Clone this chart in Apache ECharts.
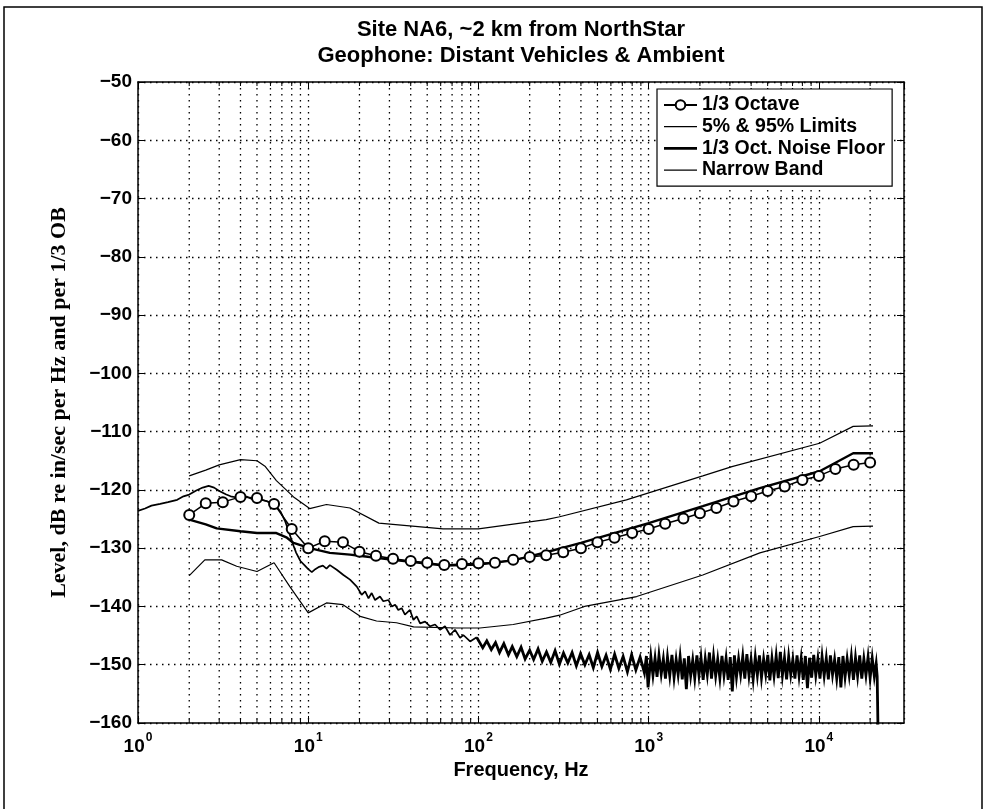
<!DOCTYPE html>
<html><head><meta charset="utf-8">
<script src="https://cdn.jsdelivr.net/npm/echarts@6/dist/echarts.min.js"></script>
<style>html,body{margin:0;padding:0;background:#fff}#c{width:986px;height:809px}</style>
</head><body><div id="c"></div>
<script>
const titleLines = ['Site NA6, ~2 km from NorthStar', 'Geophone: Distant Vehicles & Ambient'];
const xName = 'Frequency, Hz';
const yName = 'Level, dB re in/sec per Hz and per 1/3 OB';
const legendNames = ['1/3 Octave', '5% & 95% Limits', '1/3 Oct. Noise Floor', 'Narrow Band'];
const yMin = -160, yMax = -50, yStep = 10;
const xMin = 1, xMax = 31622.78;

const octaveFreqs = [2,2.5,3.15,4,5,6.3,8,10,12.5,16,20,25,31.5,40,50,63,80,100,125,160,200,250,315,400,500,630,800,1000,1250,1600,2000,2500,3150,4000,5000,6300,8000,10000,12500,16000,20000];
const octaveLevels = [-124.3,-122.3,-122.1,-121.2,-121.4,-122.4,-126.7,-130.0,-128.8,-129.0,-130.6,-131.3,-131.8,-132.2,-132.5,-132.9,-132.7,-132.6,-132.5,-132.0,-131.5,-131.2,-130.7,-130.0,-129.0,-128.2,-127.4,-126.7,-125.8,-124.9,-124.0,-123.1,-122.0,-121.1,-120.2,-119.4,-118.3,-117.6,-116.4,-115.7,-115.3];

const upperLimit = [[2,-117.6],[2.5,-116.6],[3,-115.7],[4,-114.8],[5,-115.0],[5.6,-116.0],[6.5,-118.4],[8.2,-121.2],[10.2,-123.2],[12.8,-122.5],[17.6,-123.1],[26,-125.7],[62,-126.7],[100,-126.7],[250,-125.1],[300,-124.6],[740,-121.7],[2080,-117.6],[3085,-116.0],[10100,-112.0],[15900,-109.1],[20800,-109.0]];
const lowerLimit = [[2,-134.7],[2.47,-132.0],[3.1,-132.0],[3.8,-133.1],[5,-134.0],[6.3,-132.5],[7.8,-136.6],[10,-141.1],[12.8,-139.4],[16,-139.7],[20.2,-141.7],[25.2,-142.5],[33,-142.8],[41.6,-143.5],[74.5,-143.7],[102,-143.7],[160,-143.1],[250,-142.0],[300,-141.5],[420,-140.0],[850,-138.3],[2080,-134.6],[4500,-130.8],[10100,-128.0],[15900,-126.3],[20800,-126.2]];
const noiseFloor = [[2,-125.1],[2.5,-125.9],[2.9,-126.6],[4,-127.1],[5,-127.4],[6.5,-127.4],[7.5,-128.2],[8.2,-129.1],[10.2,-130.0],[13.4,-130.8],[17.6,-131.1],[20,-131.3],[31.5,-132.0],[63,-133.0],[100,-132.8],[160,-132.1],[200,-131.4],[250,-130.7],[315,-129.9],[400,-129.1],[1000,-125.7],[2080,-122.8],[4500,-119.7],[10100,-116.8],[15900,-113.7],[20800,-113.7]];

// narrow-band spectrum, low part (1 - ~100 Hz)
const narrowBandLow = [
[1.0,-123.6],[1.1,-123.2],[1.2,-122.7],[1.35,-122.4],[1.5,-122.1],[1.7,-121.7],[1.85,-121.1],[2.0,-120.8],[2.2,-120.1],[2.4,-119.6],[2.6,-119.3],[2.8,-119.6],[3.0,-120.2],[3.3,-120.8],[3.5,-121.1],[3.8,-121.3],[4.1,-121.0],[4.4,-121.2],[4.7,-121.6],[5.0,-122.2],[5.3,-121.7],[5.7,-121.9],[6.0,-122.2],[6.4,-122.6],[6.9,-123.8],[7.3,-125.3],[7.7,-127.2],[8.1,-129.2],[8.5,-130.8],[9.0,-132.2],[9.5,-132.9],[10.0,-133.6],[10.5,-134.1],[11.0,-133.6],[11.6,-133.2],[12.2,-133.0],[12.8,-133.5],[13.4,-132.9],
[14.7,-133.7],[16.1,-134.6],[17.6,-135.4],[19.3,-136.6],[20.6,-138.0],[21.6,-137.4],[22.6,-138.6],[23.6,-137.7],[24.7,-138.9],[26.4,-138.3],[27.6,-139.1],[29.6,-138.9],[31.0,-140.0],[32.4,-139.7],[33.8,-140.6],[35.4,-140.3],[37.0,-141.4],[39.6,-140.6],[41.5,-142.3],[43.4,-141.7],[45.4,-142.9],[48.6,-142.6],[52.0,-143.4],[55.6,-143.1],[59.5,-144.0],[63.6,-143.4],[68.1,-144.9],[72.8,-144.0],[78.0,-145.4],[81.5,-144.9],[89.3,-146.0],[97.7,-145.3]
];
// narrow-band spectrum, dense part (~100 Hz - 22 kHz)
const narrowBandHigh = [
[97.7,-145.3],[106,-147.1],[112,-145.9],[119,-147.4],[126,-146.2],[133,-147.9],[141,-146.4],[150,-148.3],[158,-146.9],[168,-148.6],[178,-147.0],[188,-149.0],[200,-147.5],[211,-149.1],[224,-147.3],[237,-149.4],[251,-147.8],[266,-149.6],[282,-147.6],[299,-149.9],[316,-148.0],[335,-149.7],[355,-147.9],[376,-150.2],[398,-148.1],[422,-150.0],[447,-148.3],[473,-150.5],[501,-147.9],[531,-150.3],[562,-148.4],[596,-150.8],[631,-148.2],[668,-150.6],[708,-148.6],[750,-151.2],[794,-148.3],[841,-150.9],[891,-148.7],[944,-151.4],[970,-148.5],[992,-153.9],
[1030,-148.6],[1060,-151.8],[1090,-148.9],[1120,-152.1],[1150,-148.4],[1185,-151.6],[1220,-149.0],[1255,-152.4],[1290,-148.7],[1330,-151.9],[1370,-148.3],[1410,-152.2],[1450,-149.1],[1490,-151.7],[1530,-148.6],[1575,-152.5],[1620,-148.9],[1665,-154.2],[1715,-148.5],[1765,-151.9],[1815,-149.2],[1865,-152.3],[1920,-148.4],[1975,-151.8],[2030,-148.8],[2090,-152.6],[2150,-149.0],[2210,-151.7],[2275,-147.9],[2340,-152.4],[2405,-148.6],[2475,-151.9],[2545,-149.1],[2620,-152.3],[2695,-148.5],[2770,-151.8],[2850,-148.9],[2930,-152.6],[3015,-148.7],[3100,-154.6],[3190,-148.4],[3280,-152.1],[3375,-149.0],[3470,-151.7],[3570,-148.6],[3670,-152.4],[3775,-148.2],[3885,-151.9],[3995,-149.1],[4110,-152.5],[4230,-148.7],[4350,-151.8],[4475,-148.4],[4600,-152.2],[4735,-149.0],[4870,-151.6],[5010,-148.3],[5150,-152.7],[5300,-148.9],[5450,-151.9],[5610,-148.5],[5770,-152.3],[5935,-147.8],[6105,-151.8],[6280,-148.8],[6460,-152.5],[6645,-148.6],[6835,-151.7],[7030,-149.1],[7230,-152.4],[7440,-148.4],[7650,-151.9],[7870,-148.9],[8095,-152.6],[8330,-148.5],[8565,-154.0],[8810,-148.8],[9065,-152.2],[9325,-148.3],[9590,-151.8],[9865,-149.0],[10150,-152.4],[10440,-148.6],[10740,-151.9],[11050,-148.9],[11365,-152.5],[11690,-148.4],[12025,-151.7],[12370,-149.1],[12725,-152.3],[13090,-148.7],[13465,-153.9],[13850,-148.5],[14250,-152.1],[14655,-149.0],[15075,-151.8],[15510,-148.6],[15955,-152.6],[16410,-148.8],[16880,-151.9],[17365,-148.4],[17865,-152.4],[18375,-149.0],[18900,-151.8],[19445,-148.7],[20000,-152.3],[20575,-148.9],[21165,-152.0],[21700,-149.8],[22000,-152.0],[22300,-163]
];

const minorFreqs = [2,3,4,5,6,7,8,9,20,30,40,50,60,70,80,90,200,300,400,500,600,700,800,900,2000,3000,4000,5000,6000,7000,8000,9000,20000];

const SANS = '"Liberation Sans", Arial, Helvetica, sans-serif';
const SERIF = '"Liberation Serif", "Times New Roman", serif';
const dotted = [1.5, 4.5];

const chart = echarts.init(document.getElementById('c'), null, {renderer: 'canvas'});

function xLabel(v) {
  const e = Math.log10(v);
  if (Math.abs(e - Math.round(e)) > 1e-6) return '';
  return '{n|10}{e|' + Math.round(e) + '}';
}

const thinIcon = 'path://M0,0L33,0L33,1.2L0,1.2Z';
const thickIcon = 'path://M0,0L33,0L33,2.6L0,2.6Z';

const baseX = {
  type: 'log', logBase: 10, min: xMin, max: xMax,
  axisLine: {show: true, lineStyle: {color: '#000', width: 1.5}},
  axisTick: {show: true, inside: true, length: 7, lineStyle: {color: '#000', width: 1}},
};
const baseY = {
  type: 'value', min: yMin, max: yMax, interval: yStep,
  axisLine: {show: true, lineStyle: {color: '#000', width: 1.5}},
  axisTick: {show: true, inside: true, length: 7, lineStyle: {color: '#000', width: 1}},
};

const titleStyle = {fontFamily: SANS, fontWeight: 'bold', fontSize: 22, fill: '#000', textAlign: 'center', textVerticalAlign: 'middle'};

const option = {
  animation: false,
  backgroundColor: '#fff',
  graphic: [
    {type: 'rect', silent: true, z: -1,
     shape: {x: 4, y: 7, width: 978, height: 830},
     style: {fill: 'none', stroke: '#000', lineWidth: 1.5}},
    {type: 'text', silent: true, x: 521, y: 30,
     style: Object.assign({text: titleLines[0]}, titleStyle)},
    {type: 'text', silent: true, x: 521, y: 56,
     style: Object.assign({text: titleLines[1]}, titleStyle)}
  ],
  legend: {
    data: [
      {name: legendNames[0]},
      {name: legendNames[1], icon: thinIcon},
      {name: legendNames[2], icon: thickIcon},
      {name: legendNames[3], icon: thinIcon}
    ],
    orient: 'vertical',
    left: 657, top: 89,
    itemWidth: 33, itemHeight: 12, itemGap: 1.7, itemTextGap: 6,
    padding: [6, 7, 6, 6],
    backgroundColor: '#fff', borderColor: '#000', borderWidth: 1.2,
    textStyle: {fontFamily: SANS, fontWeight: 'bold', fontSize: 19.5, lineHeight: 20, color: '#000'},
    selectedMode: false
  },
  grid: {left: 138, right: 82, top: 82, bottom: 86, containLabel: false},
  xAxis: [
    Object.assign({}, baseX, {
      position: 'bottom',
      name: xName, nameLocation: 'middle', nameGap: 36,
      nameTextStyle: {fontFamily: SANS, fontWeight: 'bold', fontSize: 20, color: '#000'},
      splitLine: {show: true, lineStyle: {color: '#000', width: 1.3, type: dotted}},
      axisLabel: {
        show: true, margin: 9, formatter: xLabel, showMaxLabel: false,
        rich: {
          n: {fontFamily: SANS, fontWeight: 'bold', fontSize: 19, color: '#000', lineHeight: 24, verticalAlign: 'bottom'},
          e: {fontFamily: SANS, fontWeight: 'bold', fontSize: 12, color: '#000', lineHeight: 24, verticalAlign: 'top', padding: [0, 0, 0, 1]}
        }
      }
    }),
    Object.assign({}, baseX, {
      position: 'top', axisLabel: {show: false}, splitLine: {show: false}
    })
  ],
  yAxis: [
    Object.assign({}, baseY, {
      position: 'left',
      name: yName, nameLocation: 'middle', nameGap: 68, nameRotate: 90,
      nameTextStyle: {fontFamily: SERIF, fontWeight: 'bold', fontSize: 22, color: '#000'},
      splitLine: {show: true, lineStyle: {color: '#000', width: 1.3, type: dotted}},
      axisLabel: {
        show: true, margin: 6,
        formatter: v => String(v).replace('-', '\u2212'),
        fontFamily: SANS, fontWeight: 'bold', fontSize: 19, color: '#000'
      }
    }),
    Object.assign({}, baseY, {
      position: 'right', axisLabel: {show: false}, splitLine: {show: false}
    })
  ],
  series: [
    {
      type: 'custom', name: 'minor-grid', silent: true, z: 1,
      xAxisIndex: 0, yAxisIndex: 0,
      data: minorFreqs.map(f => [f, yMin]),
      renderItem: function (params, api) {
        const f = api.value(0);
        const top = api.coord([f, yMax]);
        const bot = api.coord([f, yMin]);
        return {
          type: 'group',
          children: [
            {type: 'line', shape: {x1: top[0], y1: top[1], x2: bot[0], y2: bot[1]},
             style: {stroke: '#000', lineWidth: 1.3, lineDash: dotted}},
            {type: 'line', shape: {x1: bot[0], y1: bot[1], x2: bot[0], y2: bot[1] - 4},
             style: {stroke: '#000', lineWidth: 1}},
            {type: 'line', shape: {x1: top[0], y1: top[1], x2: top[0], y2: top[1] + 4},
             style: {stroke: '#000', lineWidth: 1}}
          ]
        };
      }
    },
    {
      name: legendNames[3], type: 'line', data: narrowBandLow, symbol: 'none', clip: true, z: 3,
      lineStyle: {color: '#000', width: 1.7}, itemStyle: {color: '#000'}
    },
    {
      name: legendNames[3], type: 'line', data: narrowBandHigh, symbol: 'none', clip: true, z: 3,
      lineStyle: {color: '#000', width: 2.8, join: 'miter'}, itemStyle: {color: '#000'}
    },
    {
      name: legendNames[1], type: 'line', data: upperLimit, symbol: 'none', z: 4,
      lineStyle: {color: '#000', width: 1.2}, itemStyle: {color: '#000'}
    },
    {
      name: legendNames[1], type: 'line', data: lowerLimit, symbol: 'none', z: 4,
      lineStyle: {color: '#000', width: 1.2}, itemStyle: {color: '#000'}
    },
    {
      name: legendNames[2], type: 'line', data: noiseFloor, symbol: 'none', z: 5,
      lineStyle: {color: '#000', width: 2.4}, itemStyle: {color: '#000'}
    },
    {
      name: legendNames[0], type: 'line', z: 6,
      data: octaveFreqs.map((f, i) => [f, octaveLevels[i]]),
      symbol: 'emptyCircle', symbolSize: 10, showSymbol: true,
      lineStyle: {color: '#000', width: 1.5},
      itemStyle: {color: '#000', borderColor: '#000', borderWidth: 1.8}
    }
  ]
};
chart.setOption(option);
</script>
</body></html>
